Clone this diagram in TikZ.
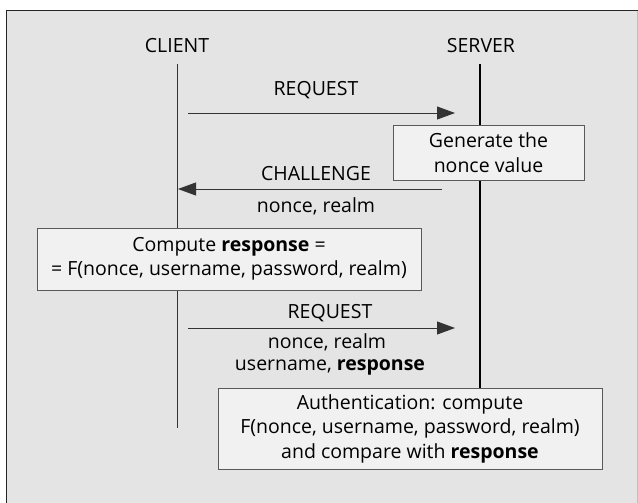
\documentclass[tikz,border=0pt]{standalone}
\usepackage{fontspec}
\setmainfont{Open Sans}
\usetikzlibrary{arrows.meta}

\definecolor{bggray}{HTML}{E4E4E4}
\definecolor{boxgray}{HTML}{F1F1F1}

\begin{document}
\begin{tikzpicture}[x=1pt,y=-1pt,
    lbl/.style={font=\fontsize{19.5}{24.5}\selectfont,inner sep=0pt},
    stepbox/.style={draw=black!65,fill=boxgray,align=center,inner sep=0pt,
        font=\fontsize{19.5}{24.5}\selectfont},
    msgarrow/.style={draw=black!80,line width=0.8pt,-{Triangle[length=18pt,width=13pt]}}]

\useasboundingbox (0,0) rectangle (638,503);
\fill[bggray] (6,11) rectangle (638,503);
\draw[black!85,line width=1pt] (6,503) -- (6,11) -- (638,11);
\draw[black!25,line width=0.6pt] (637,11) -- (637,503);

% lifelines
\coordinate (ctop) at (177,64);
\coordinate (cbot) at (177,428);
\coordinate (stop) at (480,64);
\coordinate (sbot) at (480,388);

\node[lbl] (client) at (177,46) {CLIENT};
\node[lbl] (server) at (481,46) {SERVER};

\draw[black!80,line width=0.7pt] (ctop) -- (cbot);
\draw[black,line width=2.4pt] (stop) -- (sbot);

% first request
\coordinate (r1s) at (188,113);
\coordinate (r1e) at (455,113);
\node[lbl] (req1) at (316,90) {REQUEST};
\draw[msgarrow] (r1s) -- (r1e);

\node[stepbox,minimum width=191pt,minimum height=55pt] (gen) at (488.5,152.5)
    {Generate the\\nonce value};

% challenge
\coordinate (chs) at (442,189);
\coordinate (che) at (178,189);
\node[lbl] (chal) at (316,174) {CHALLENGE};
\node[lbl] (chalp) at (316,206) {nonce, realm};
\draw[msgarrow] (chs) -- (che);

\node[stepbox,minimum width=384pt,minimum height=62pt] (comp) at (229,259)
    {Compute \textbf{response} =\\= F(nonce, username, password, realm)};

% second request
\coordinate (r2s) at (188,328);
\coordinate (r2e) at (455,328);
\node[lbl] (req2) at (330,313) {REQUEST};
\node[lbl] (req2a) at (327,342) {nonce, realm};
\node[lbl] (req2b) at (330,367) {username, \textbf{response}};
\draw[msgarrow] (r2s) -- (r2e);

\node[stepbox,minimum width=384pt,minimum height=81pt] (auth) at (410,428.5)
    {Authentication: compute\\F(nonce, username, password, realm)\\and compare with \textbf{response}};

\end{tikzpicture}
\end{document}
